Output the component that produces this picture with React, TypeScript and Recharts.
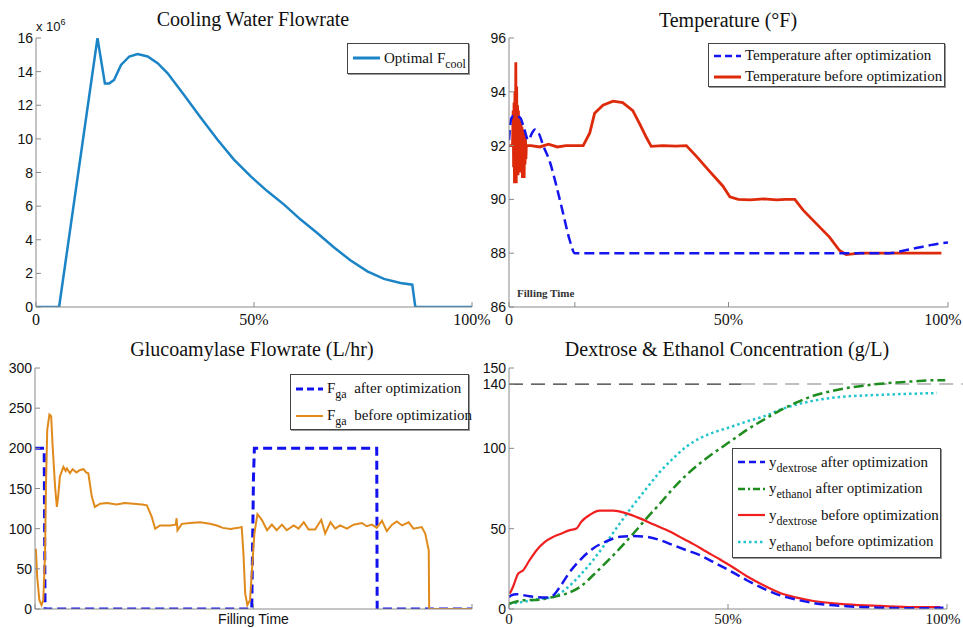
import React from 'react';
import { LineChart, Line, XAxis, YAxis, ReferenceLine, Legend, Label } from 'recharts';

const SERIF = '"Liberation Serif", "Times New Roman", serif';
const SANS = '"Liberation Sans", Arial, sans-serif';
const FRAME = '#8a8a8a';
const INK = '#111';

type Pt = [number, number];

// ---- Cooling water flowrate (x 10^6) ----
const coolingOptimal: Pt[] = [
  [0, 0], [5.3, 0], [14.1, 16], [15.8, 13.3], [16.8, 13.3], [17.9, 13.5], [19.5, 14.4], [21.4, 14.9],
  [23.3, 15.05], [25.6, 14.9], [27.9, 14.5], [30.2, 13.9], [34.0, 12.6], [37.8, 11.25], [41.6, 9.96],
  [45.4, 8.77], [49.2, 7.78], [53.1, 6.88], [56.9, 6.09], [60.7, 5.2], [64.5, 4.4], [68.3, 3.55],
  [72.1, 2.78], [76.0, 2.12], [79.8, 1.67], [83.6, 1.43], [86.3, 1.33], [87.0, 0], [100, 0],
];
const coolingTicks = [0, 2, 4, 6, 8, 10, 12, 14, 16];

// ---- Temperature (°F) ----
const temperatureAfter: Pt[] = [
  [0, 92.2], [0.5, 93.0], [1.0, 93.1], [2.5, 93.05], [3.5, 92.6], [4.4, 92.2], [5.2, 92.45], [5.9, 92.6],
  [6.8, 92.45], [7.8, 92.0], [9.3, 91.4], [10.8, 90.5], [12.3, 89.5], [13.8, 88.5], [15.0, 88.0],
  [50, 88.0], [86.7, 88.0], [90, 88.1], [93, 88.2], [96, 88.3], [100, 88.4],
];
const temperatureBefore: Pt[] = [
  [0, 92], [0.8, 92], [0.95, 93.3], [1.05, 91.2], [1.15, 93.6], [1.25, 90.6], [1.35, 94.0], [1.45, 90.8],
  [1.55, 95.1], [1.65, 90.6], [1.75, 94.2], [1.85, 91.0], [1.95, 93.5], [2.05, 90.9], [2.15, 93.3],
  [2.25, 91.0], [2.35, 93.0], [2.45, 91.2], [2.55, 92.9], [2.65, 91.0], [2.75, 92.8], [2.85, 91.1],
  [2.95, 92.7], [3.05, 90.8], [3.15, 92.6], [3.25, 91.0], [3.35, 92.5], [3.45, 90.8], [3.55, 92.4],
  [3.65, 91.3], [3.75, 92.3], [3.85, 91.5], [3.95, 92.0], [5, 92.0], [7, 91.95], [9, 92.05], [11, 91.95],
  [13, 92.0], [15, 92.0], [16.9, 92.0], [18.4, 92.47], [19.5, 93.2], [21.4, 93.5], [23.7, 93.65],
  [25.9, 93.6], [28.2, 93.3], [29.8, 92.8], [31.3, 92.3], [32.4, 91.97], [35, 92.0], [38, 91.98],
  [40.4, 92.0], [42.7, 91.6], [45.7, 91.04], [48.7, 90.5], [50.3, 90.1], [52.2, 90.0], [55, 89.98],
  [58, 90.02], [61, 89.98], [63, 90.0], [65.1, 90.0], [67, 89.6], [70, 89.1], [73, 88.6], [75.3, 88.1],
  [76.8, 87.95], [80, 88.0], [85, 88.0], [90, 88.0], [95, 88.0], [98.5, 88.0],
];
const temperatureTicks = [86, 88, 90, 92, 94, 96];

// ---- Glucoamylase flowrate (L/hr) ----
const glucoAfter: Pt[] = [
  [0, 200], [2.1, 200], [2.3, 0], [49.6, 0], [50.0, 165], [50.2, 200], [78.2, 200], [78.3, 0], [100, 0],
];
const glucoBefore: Pt[] = [
  [0.2, 75], [0.5, 40], [1.0, 11], [1.5, 5], [1.9, 11], [2.3, 69], [2.5, 152], [2.8, 223], [3.3, 242],
  [3.7, 240], [4.0, 206], [4.6, 152], [5.0, 127], [5.3, 140], [5.7, 165], [6.5, 177], [7.0, 172],
  [7.3, 175], [8.0, 169], [8.6, 174], [9.5, 170], [10.3, 173], [11.1, 174], [11.7, 170], [12.2, 169],
  [13.0, 140], [13.7, 127], [14.9, 131], [16.5, 132], [18.7, 130], [20.5, 132], [22.5, 131], [24.5, 130],
  [25.6, 129], [26.7, 115], [27.5, 100], [28.6, 104], [30.9, 104], [32.2, 105], [32.4, 113], [32.6, 98],
  [33.6, 106], [35.5, 107], [37.8, 108], [40, 106], [41.6, 104], [43, 101], [44.7, 99.5], [46.5, 101],
  [47.3, 102], [47.7, 69], [48.1, 19], [48.6, 5], [49.2, 11], [49.6, 44], [50.2, 94], [50.9, 118],
  [51.9, 111], [53.1, 98], [54.2, 105], [55.3, 98], [56.5, 105], [57.6, 98], [59.2, 104], [60.3, 100],
  [61.5, 108], [62.6, 99], [64.1, 99], [65.5, 111], [66.4, 94], [67.6, 108], [68.7, 100], [69.8, 104],
  [71.4, 100], [72.9, 105], [74.0, 106], [74.8, 107], [75.9, 103], [77.1, 105], [78.2, 101], [79.4, 110],
  [80.5, 97], [81.7, 105], [82.8, 109], [84.0, 104], [85.5, 108], [86.6, 100], [88.5, 102], [89.3, 94],
  [90.1, 73], [90.2, 0], [100, 0],
];
const glucoTicks = [0, 50, 100, 150, 200, 250, 300];

// ---- Dextrose & ethanol concentration (g/L) ----
const dextroseAfter: Pt[] = [
  [0, 7.5], [0.5, 8.5], [1.7, 9.2], [4.7, 7.9], [8.5, 7.1], [10.1, 8.5], [11.6, 13.7], [13.9, 23.1],
  [16.2, 30.4], [19.2, 37.7], [22.3, 42.2], [25.3, 44.9], [28.4, 45.4], [31.4, 44.9], [34.5, 42.9],
  [37.5, 39.7], [40.5, 36.6], [43.6, 33.5], [46.6, 29.3], [50.5, 23.7], [54.3, 17.9], [58.1, 12.7],
  [61.9, 8.5], [65.7, 5.8], [69.5, 3.7], [77.1, 1.7], [84.8, 0.8], [92.4, 0.4], [99.2, 0.8],
];
const ethanolAfter: Pt[] = [
  [0, 3.3], [3.2, 5.4], [7.0, 5.8], [10.1, 7.5], [13.1, 9.6], [16.2, 13.7], [19.2, 21], [22.3, 29.3],
  [25.3, 37.7], [28.4, 47], [31.4, 56.4], [34.5, 65.7], [37.5, 75.1], [40.5, 83.4], [43.6, 90.7],
  [46.6, 96.9], [50.5, 104.2], [54.3, 111.5], [58.1, 117.7], [61.9, 123.6], [65.7, 128.6], [69.5, 132.7],
  [73.3, 135.4], [77.1, 137.5], [80.9, 139.0], [84.8, 140.2], [88.6, 141.0], [92.4, 141.7], [96.2, 142.3],
  [99.6, 142.3],
];
const dextroseBefore: Pt[] = [
  [0.2, 9.6], [0.9, 13.7], [2.1, 22], [3.2, 24], [4.7, 30.4], [6.3, 36.6], [8.2, 41.8], [10.1, 44.9],
  [12.0, 47.0], [13.9, 49.1], [15.4, 50.1], [16.5, 54.3], [18.4, 58.5], [20.7, 61.2], [23.8, 61.2],
  [26.8, 59.5], [29.9, 56.4], [32.9, 52.8], [36.0, 49.1], [39.0, 44.9], [42.1, 40.4], [45.1, 35.6],
  [48.2, 30.8], [51.2, 25.8], [54.3, 20.4], [58.1, 14.8], [61.9, 10.0], [65.7, 7.1], [69.5, 5.0],
  [77.1, 2.9], [84.8, 1.9], [92.4, 1.2], [98.5, 1.2],
];
const ethanolBefore: Pt[] = [
  [0, 3.3], [3.2, 4.4], [7.0, 6.4], [10.1, 7.5], [13.1, 12.7], [16.2, 21], [19.2, 30.4], [22.3, 41.8],
  [25.3, 53.3], [28.4, 64.7], [31.4, 75.1], [34.5, 85.5], [37.5, 93.8], [40.5, 101.1], [43.6, 106.3],
  [46.6, 109.8], [50.5, 113.2], [54.3, 116.7], [58.1, 119.8], [61.9, 124.0], [65.7, 127.3], [69.5, 129.6],
  [73.3, 131.3], [77.1, 132.3], [84.8, 133.3], [92.4, 134.0], [97.7, 134.4],
];
const concentrationTicks = [0, 50, 100, 140, 150];
const ethanolTarget = 140;

const xTicksPercent = [0, 50, 100];
const xTicksTemperature = [0, 15, 50, 100];
const percentLabel = (v: number) => (v === 0 ? '0' : v === 50 ? '50%' : v === 100 ? '100%' : '');
const noLabel = () => '';

const rows = (pts: Pt[]) => pts.map(([x, y]) => ({ x, y }));

// ---- tick renderers (inward tick marks, MATLAB-like frame) ----
const bottomTick = (fmt: (v: number) => string, dy: number, fs: number, lastShift: number) => (p: any) => (
  <g>
    <line x1={p.x} y1={p.y} x2={p.x} y2={p.y - 5} stroke={FRAME} />
    <text
      x={p.x + (p.payload.value === 100 ? lastShift : 0)}
      y={p.y + dy}
      textAnchor="middle"
      fontFamily={SERIF}
      fontSize={fs}
      fill={INK}
    >
      {fmt(p.payload.value)}
    </text>
  </g>
);
const topTick = (p: any) => <line x1={p.x} y1={p.y} x2={p.x} y2={p.y + 5} stroke={FRAME} />;
const leftTick = (p: any) => (
  <g>
    <line x1={p.x} y1={p.y} x2={p.x + 5} y2={p.y} stroke={FRAME} />
    <text x={p.x - 3} y={p.y + 5} textAnchor="end" fontFamily={SANS} fontSize={14} fill={INK}>
      {p.payload.value}
    </text>
  </g>
);
const rightTick = (p: any) => <line x1={p.x} y1={p.y} x2={p.x - 5} y2={p.y} stroke={FRAME} />;

type Entry = { color: string; width: number; dash?: string; label: React.ReactNode };

function LegendBox({ entries, rowH, w, h, padTop }: { entries: Entry[]; rowH: number; w: number; h: number; padTop: number }) {
  return (
    <div
      style={{
        width: w,
        height: h,
        boxSizing: 'border-box',
        border: '1px solid #444',
        background: '#fff',
        paddingTop: padTop,
        paddingLeft: 5,
        fontFamily: SERIF,
        fontSize: 15,
        color: INK,
        boxShadow: '1px 1px 0 #999',
      }}
    >
      {entries.map((e, i) => (
        <div key={i} style={{ display: 'flex', alignItems: 'center', height: rowH, whiteSpace: 'nowrap' }}>
          <svg width={27} height={10} style={{ marginRight: 4, flex: 'none' }}>
            <line x1={0} y1={5} x2={27} y2={5} stroke={e.color} strokeWidth={e.width} strokeDasharray={e.dash} />
          </svg>
          <span style={{ lineHeight: 1 }}>{e.label}</span>
        </div>
      ))}
    </div>
  );
}

const Sub = ({ children }: { children: React.ReactNode }) => (
  <span style={{ fontSize: 12, position: 'relative', top: 5 }}>{children}</span>
);

const C = {
  cool: '#1B84C6',
  tAfter: '#1515F0',
  tBefore: '#DD2A0A',
  gAfter: '#1212EE',
  gBefore: '#E08A1C',
  dAfter: '#1414EE',
  eAfter: '#1E8C1E',
  dBefore: '#F02020',
  eBefore: '#22C4CC',
};

const titleStyle = (left: number, top: number, width: number): React.CSSProperties => ({
  position: 'absolute',
  left,
  top,
  width,
  textAlign: 'center',
  fontFamily: SERIF,
  fontSize: 20,
  lineHeight: '20px',
  color: INK,
  whiteSpace: 'nowrap',
});

export default function App() {
  const commonLine = { dot: false, isAnimationActive: false, dataKey: 'y', activeDot: false } as const;

  const axesFor = (
    yDomain: [number, number],
    yTicks: number[],
    yWidth: number,
    xTicks: number[],
    xTick: (p: any) => React.ReactElement,
    xHeight: number,
    xLabel?: React.ReactNode,
  ) => [
    <XAxis
      key="xb"
      dataKey="x"
      type="number"
      domain={[0, 100]}
      ticks={xTicks}
      interval={0}
      allowDataOverflow
      height={xHeight}
      tickSize={0}
      tickMargin={0}
      tickLine={false}
      axisLine={{ stroke: FRAME }}
      tick={xTick}
    >
      {xLabel}
    </XAxis>,
    <XAxis
      key="xt"
      xAxisId="top"
      orientation="top"
      dataKey="x"
      type="number"
      domain={[0, 100]}
      ticks={xTicks}
      interval={0}
      allowDataOverflow
      height={0}
      tickSize={0}
      tickMargin={0}
      tickLine={false}
      axisLine={{ stroke: FRAME }}
      tick={topTick}
    />,
    <YAxis
      key="yl"
      type="number"
      domain={yDomain}
      ticks={yTicks}
      interval={0}
      allowDataOverflow
      width={yWidth}
      tickSize={0}
      tickMargin={0}
      tickLine={false}
      axisLine={{ stroke: FRAME }}
      tick={leftTick}
    />,
    <YAxis
      key="yr"
      yAxisId="right"
      orientation="right"
      type="number"
      domain={yDomain}
      ticks={yTicks}
      interval={0}
      allowDataOverflow
      width={0}
      tickSize={0}
      tickMargin={0}
      tickLine={false}
      axisLine={{ stroke: FRAME }}
      tick={rightTick}
    />,
  ];

  return (
    <div style={{ position: 'absolute', left: 0, top: 0, width: 963, height: 628, background: '#fff', overflow: 'hidden' }}>
      {/* Panel A: Cooling Water Flowrate */}
      <div style={titleStyle(53, 9, 400)}>Cooling Water Flowrate</div>
      <div style={{ position: 'absolute', left: 36, top: 20, fontFamily: SANS, fontSize: 13, color: INK, lineHeight: '13px' }}>
        x 10<span style={{ fontSize: 9, position: 'relative', top: -6 }}>6</span>
      </div>
      <div style={{ position: 'absolute', left: 0, top: 0 }}>
        <LineChart width={495} height={340} margin={{ top: 38, right: 23, bottom: 15, left: 0 }}>
          {axesFor([0, 16], coolingTicks, 36, xTicksPercent, bottomTick(percentLabel, 18, 16, 0), 18)}
          <Line {...commonLine} data={rows(coolingOptimal)} stroke={C.cool} strokeWidth={2.5} type="linear" />
          <Legend
            layout="horizontal"
            verticalAlign="middle"
            align="center"
            wrapperStyle={{ left: 347, top: 43, width: 122, height: 31 }}
            content={() => (
              <LegendBox
                w={122}
                h={31}
                rowH={28}
                padTop={0}
                entries={[{ color: C.cool, width: 3, label: <>Optimal F<Sub>cool</Sub></> }]}
              />
            )}
          />
        </LineChart>
      </div>

      {/* Panel B: Temperature */}
      <div style={titleStyle(528, 10, 400)}>Temperature (°F)</div>
      <div style={{ position: 'absolute', left: 480, top: 0 }}>
        <LineChart width={483} height={340} margin={{ top: 38, right: 15, bottom: 15, left: 0 }}>
          {axesFor([86, 96], temperatureTicks, 29, xTicksTemperature, bottomTick(percentLabel, 18, 16, -5), 18)}
          <Line {...commonLine} data={rows(temperatureBefore)} stroke={C.tBefore} strokeWidth={2.8} type="linear" />
          <Line {...commonLine} data={rows(temperatureAfter)} stroke={C.tAfter} strokeWidth={2.5} strokeDasharray="10 5" type="monotone" />
          <Legend
            layout="horizontal"
            verticalAlign="middle"
            align="center"
            wrapperStyle={{ left: 228, top: 43, width: 237, height: 44 }}
            content={() => (
              <LegendBox
                w={237}
                h={44}
                rowH={21}
                padTop={1}
                entries={[
                  { color: C.tAfter, width: 2.5, dash: '7 4', label: 'Temperature after optimization' },
                  { color: C.tBefore, width: 3, label: 'Temperature before optimization' },
                ]}
              />
            )}
          />
        </LineChart>
      </div>
      <div style={{ position: 'absolute', left: 517, top: 287, fontFamily: SERIF, fontSize: 11, color: '#333', fontWeight: 600 }}>
        Filling Time
      </div>

      {/* Panel C: Glucoamylase Flowrate */}
      <div style={titleStyle(52, 339, 400)}>Glucoamylase Flowrate (L/hr)</div>
      <div style={{ position: 'absolute', left: 0, top: 320 }}>
        <LineChart width={495} height={318} margin={{ top: 48, right: 23, bottom: 10, left: 0 }}>
          {axesFor(
            [0, 300],
            glucoTicks,
            35,
            xTicksPercent,
            bottomTick(noLabel, 15, 15, 0),
            19,
            <Label value="Filling Time" position="insideBottom" offset={4} fontFamily={SANS} fontSize={14} fill={INK} />,
          )}
          <Line {...commonLine} data={rows(glucoAfter)} stroke={C.gAfter} strokeWidth={3} strokeDasharray="9 5" type="linear" />
          <Line {...commonLine} data={rows(glucoBefore)} stroke={C.gBefore} strokeWidth={2} type="linear" />
          <Legend
            layout="horizontal"
            verticalAlign="middle"
            align="center"
            wrapperStyle={{ left: 290, top: 54, width: 179, height: 56 }}
            content={() => (
              <LegendBox
                w={179}
                h={56}
                rowH={27}
                padTop={0}
                entries={[
                  { color: C.gAfter, width: 3, dash: '7 4', label: <>F<Sub>ga</Sub>&nbsp;&nbsp;after optimization</> },
                  { color: C.gBefore, width: 2, label: <>F<Sub>ga</Sub>&nbsp;&nbsp;before optimization</> },
                ]}
              />
            )}
          />
        </LineChart>
      </div>

      {/* Panel D: Dextrose & Ethanol Concentration */}
      <div style={titleStyle(527, 339, 400)}>Dextrose &amp; Ethanol Concentration (g/L)</div>
      <div style={{ position: 'absolute', left: 480, top: 320 }}>
        <LineChart width={483} height={318} margin={{ top: 48, right: 16, bottom: 10, left: 0 }}>
          {axesFor([0, 150], concentrationTicks, 29, xTicksPercent, bottomTick(percentLabel, 15, 15, -4), 19)}
          <ReferenceLine
            ifOverflow="visible"
            segment={[{ x: 0, y: ethanolTarget }, { x: 53, y: ethanolTarget }]}
            stroke="#333"
            strokeWidth={1.2}
            strokeDasharray="14 8"
          />
          <ReferenceLine
            ifOverflow="visible"
            segment={[{ x: 53, y: ethanolTarget }, { x: 103.6, y: ethanolTarget }]}
            stroke="#aaa"
            strokeWidth={1.5}
            strokeDasharray="14 8"
          />
          <Line {...commonLine} data={rows(ethanolBefore)} stroke={C.eBefore} strokeWidth={2.5} strokeDasharray="2.5 3" type="monotone" />
          <Line {...commonLine} data={rows(ethanolAfter)} stroke={C.eAfter} strokeWidth={2.5} strokeDasharray="10 4 3 4" type="monotone" />
          <Line {...commonLine} data={rows(dextroseBefore)} stroke={C.dBefore} strokeWidth={2.2} type="monotone" />
          <Line {...commonLine} data={rows(dextroseAfter)} stroke={C.dAfter} strokeWidth={2.5} strokeDasharray="10 5" type="monotone" />
          <Legend
            layout="horizontal"
            verticalAlign="middle"
            align="center"
            wrapperStyle={{ left: 252, top: 128, width: 209, height: 110 }}
            content={() => (
              <LegendBox
                w={209}
                h={110}
                rowH={26.5}
                padTop={0}
                entries={[
                  { color: C.dAfter, width: 2.5, dash: '7 4', label: <>y<Sub>dextrose</Sub>&nbsp;after optimization</> },
                  { color: C.eAfter, width: 2.5, dash: '7 3 2 3', label: <>y<Sub>ethanol</Sub>&nbsp;after optimization</> },
                  { color: C.dBefore, width: 2.2, label: <>y<Sub>dextrose</Sub>&nbsp;before optimization</> },
                  { color: C.eBefore, width: 2.5, dash: '2.5 3', label: <>y<Sub>ethanol</Sub>&nbsp;before optimization</> },
                ]}
              />
            )}
          />
        </LineChart>
      </div>
    </div>
  );
}
